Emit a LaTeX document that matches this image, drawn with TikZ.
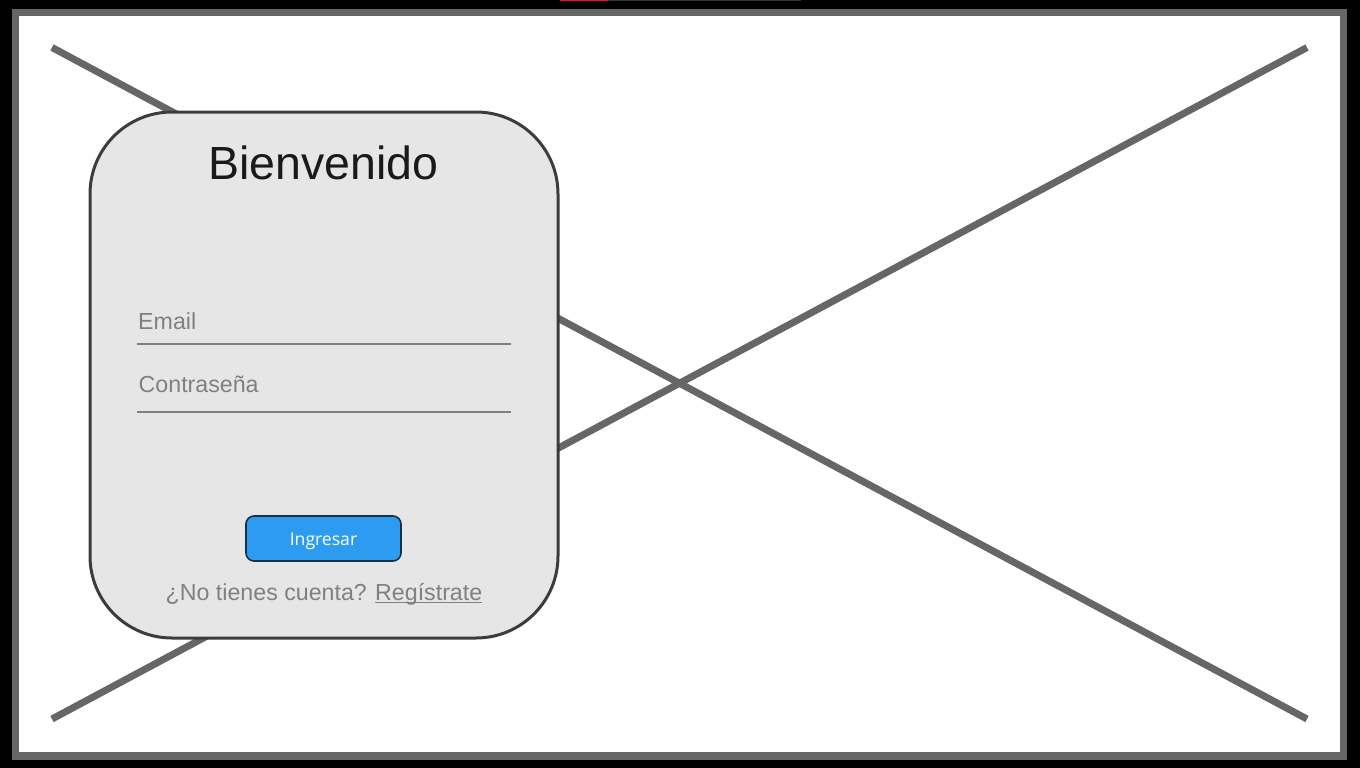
\documentclass[tikz,border=0pt]{standalone}
\usepackage{fontspec}
\setmainfont{Liberation Sans}
\newfontfamily\btnfont{Open Sans}
\definecolor{frameg}{HTML}{666666}
\definecolor{crossg}{HTML}{666666}
\definecolor{cardfill}{HTML}{E6E6E6}
\definecolor{cardline}{HTML}{3C3C3C}
\definecolor{hint}{HTML}{808080}
\definecolor{btnfill}{HTML}{2D9CF0}
\definecolor{btnline}{HTML}{1C2E40}
\definecolor{titlec}{HTML}{1A1A1A}
\definecolor{topred}{HTML}{E81123}
\definecolor{topdark}{HTML}{333333}
\tikzset{
  crossline/.style={draw=crossg, line width=7pt, line cap=butt},
  cardbox/.style={draw=cardline, fill=cardfill, line width=3pt, rounded corners=82pt,
    minimum width=468pt, minimum height=526pt, inner sep=0pt},
  fieldline/.style={draw=hint, line width=2pt},
  hinttext/.style={text=hint, inner sep=0pt, font=\fontsize{23.2}{28}\selectfont},
  btnbox/.style={draw=btnline, fill=btnfill, line width=1.6pt, rounded corners=8pt,
    minimum width=155pt, minimum height=45pt, inner sep=0pt},
}
\begin{document}
\begin{tikzpicture}[x=1pt,y=-1pt]
\useasboundingbox (0,0) rectangle (1360,768);
\fill[black] (0,0) rectangle (1360,768);
\fill[topred] (560,0) rectangle (607.5,1.5);
\fill[topdark] (607.5,0) rectangle (801,1.5);
\draw[draw=frameg, fill=white, line width=7.5pt] (15.5,12.5) rectangle (1343.5,756);
% cross
\coordinate (tl) at (52,47.5);
\coordinate (br) at (1307,719);
\coordinate (bl) at (52,719);
\coordinate (tr) at (1307,47.5);
\draw[crossline] (tl) -- (br);
\draw[crossline] (bl) -- (tr);
% card
\node[cardbox] (card) at (324,375) {};
\node[anchor=base, inner sep=0pt, text=titlec, font=\fontsize{46.5}{56}\selectfont] (title) at (323.5,179) {Bienvenido};
\node[hinttext, anchor=base west] (email) at (138,329) {Email};
\coordinate (e1) at (137,344);
\coordinate (e2) at (511,344);
\draw[fieldline] (e1) -- (e2);
\node[hinttext, anchor=base west] (pass) at (138.5,392) {Contraseña};
\coordinate (p1) at (137,411.5);
\coordinate (p2) at (511,411.5);
\draw[fieldline] (p1) -- (p2);
% button
\node[btnbox] (btn) at (323.5,538.5) {};
\node[anchor=base, inner sep=0pt, text=white, font=\btnfont\fontsize{17.6}{21}\selectfont] (btntext) at (323.5,545) {Ingresar};
% signup
\node[hinttext, anchor=base west] (q) at (165.5,600) {¿No tienes cuenta?};
\node[hinttext, anchor=base west] (reg) at (375,600) {Regístrate};
\draw[draw=hint, line width=1.6pt] ([yshift=-2.5pt]reg.base west) -- ([yshift=-2.5pt]reg.base east);
\end{tikzpicture}
\end{document}
